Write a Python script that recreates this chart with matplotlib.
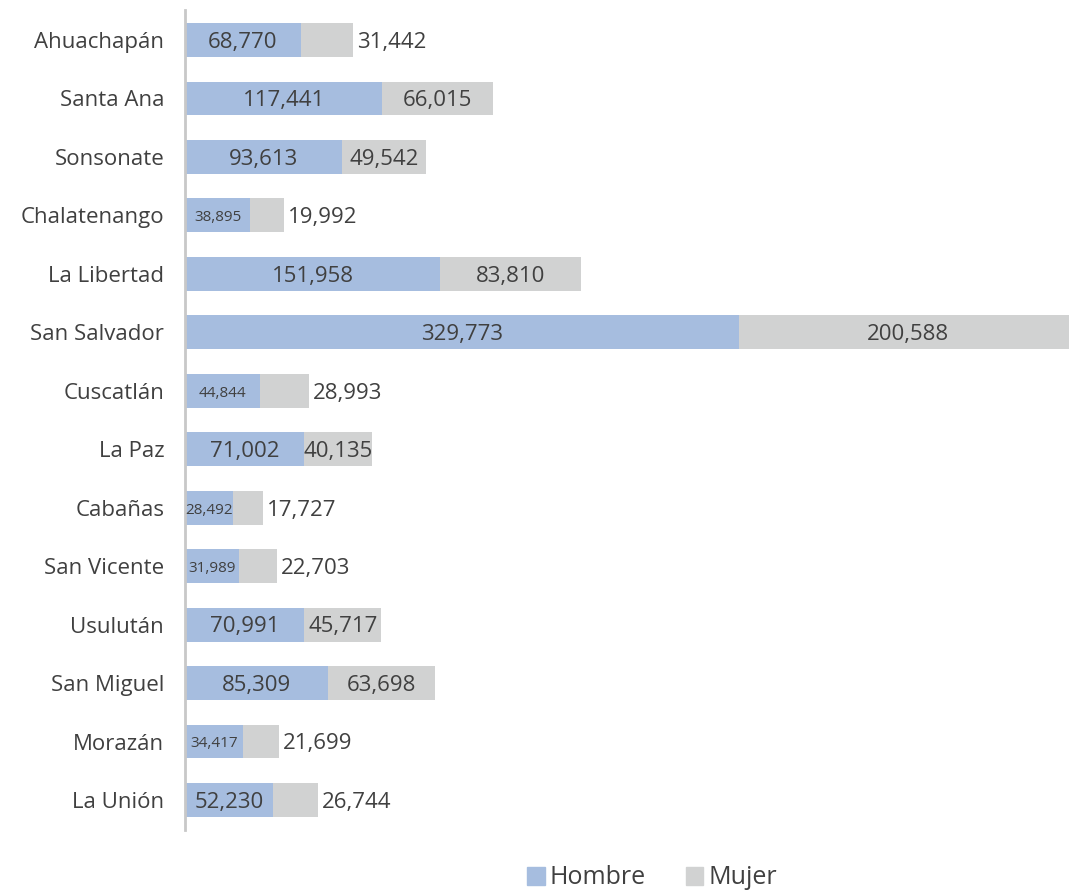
import matplotlib.pyplot as plt
from matplotlib.patches import Patch

# data
departamentos = ["Ahuachapán", "Santa Ana", "Sonsonate", "Chalatenango", "La Libertad",
                 "San Salvador", "Cuscatlán", "La Paz", "Cabañas", "San Vicente",
                 "Usulután", "San Miguel", "Morazán", "La Unión"]
hombre = [68770, 117441, 93613, 38895, 151958, 329773, 44844, 71002, 28492, 31989,
          70991, 85309, 34417, 52230]
mujer = [31442, 66015, 49542, 19992, 83810, 200588, 28993, 40135, 17727, 22703,
         45717, 63698, 21699, 26744]

C_HOMBRE = "#A6BDDF"
C_MUJER = "#D1D2D2"
C_TEXT = "#404040"

plt.rcParams["font.family"] = ["Open Sans", "DejaVu Sans"]

fig = plt.figure(figsize=(10.69, 8.92), dpi=100)
ax = fig.add_axes([185 / 1069, 1 - 830 / 892, 1 - 185 / 1069, 820 / 892])

y = list(range(len(departamentos)))
ax.barh(y, hombre, height=0.58, color=C_HOMBRE, label="Hombre")
ax.barh(y, mujer, left=hombre, height=0.58, color=C_MUJER, label="Mujer")

# the largest bar runs slightly past the right edge in the original
XMAX = 526000
ax.set_xlim(0, XMAX)
ax.set_ylim(len(departamentos) - 1 + 0.513, -0.513)
px = (1069 - 185) / XMAX  # pixels per unit
dy = 0.04  # nudge labels down to sit visually centred

for i, (h, m) in enumerate(zip(hombre, mujer)):
    if h * px > 80:
        ax.text(h / 2, i + dy, f"{h:,}", ha="center", va="center", fontsize=16, color=C_TEXT)
    else:
        ax.text(h / 2, i + dy, f"{h:,}", ha="center", va="center", fontsize=11, color=C_TEXT)
    if m * px > 60:
        ax.text(h + m / 2, i + dy, f"{m:,}", ha="center", va="center", fontsize=16,
                color=C_TEXT, clip_on=True)
    else:
        ax.text(h + m + 4 / px, i + dy, f"{m:,}", ha="left", va="center", fontsize=16, color=C_TEXT)

ax.set_yticks(y)
ax.set_yticklabels(departamentos, fontsize=16, color=C_TEXT)
ax.tick_params(axis="y", length=0, pad=15)
ax.set_xticks([])
for s in ["top", "right", "bottom"]:
    ax.spines[s].set_visible(False)
ax.spines["left"].set_color("#C8C8C8")
ax.spines["left"].set_linewidth(2)

handles = [Patch(color=C_HOMBRE), Patch(color=C_MUJER)]
fig.legend(handles, ["Hombre", "Mujer"], loc="center", bbox_to_anchor=(652 / 1069, 1 - 878 / 892),
           ncol=2, frameon=False, fontsize=18, handlelength=0.7, handleheight=0.7,
           handletextpad=0.2, columnspacing=1.6, labelcolor=C_TEXT)

plt.savefig("out.png", dpi=100)
